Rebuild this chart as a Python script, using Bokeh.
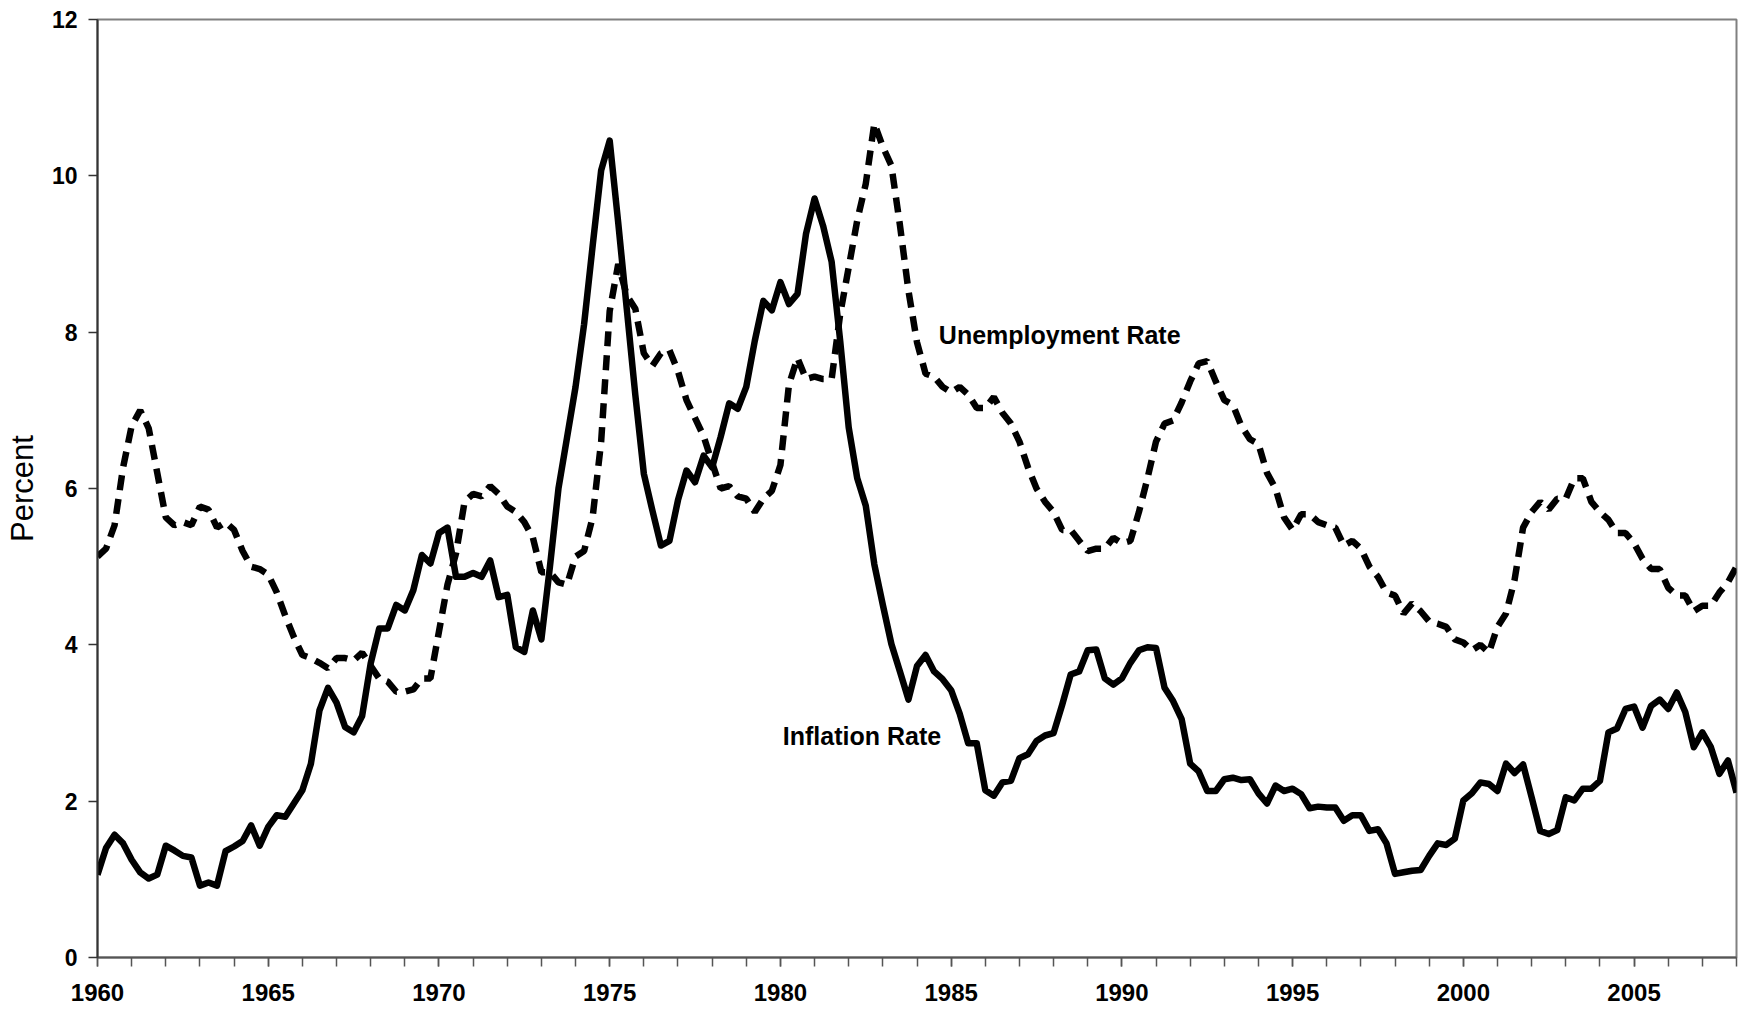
from bokeh.plotting import figure
from bokeh.models import SingleIntervalTicker, FixedTicker, Range1d, Label
from bokeh.embed import file_html
from bokeh.resources import INLINE

# Quarterly observations, 1960Q1 .. 2008Q1
start_year = 1960
unemployment = [
    5.13, 5.23, 5.53, 6.27,  6.80, 7.00, 6.77, 6.20,  5.63, 5.53, 5.57, 5.53,
    5.77, 5.73, 5.50, 5.57,  5.47, 5.20, 5.00, 4.97,  4.90, 4.67, 4.37, 4.10,
    3.87, 3.83, 3.77, 3.70,  3.83, 3.83, 3.80, 3.90,  3.73, 3.57, 3.53, 3.40,
    3.40, 3.43, 3.57, 3.57,  4.17, 4.77, 5.17, 5.83,  5.93, 5.90, 6.03, 5.93,
    5.77, 5.70, 5.57, 5.37,  4.93, 4.93, 4.80, 4.77,  5.13, 5.20, 5.63, 6.60,
    8.27, 8.87, 8.47, 8.30,  7.73, 7.57, 7.73, 7.77,  7.50, 7.13, 6.90, 6.67,
    6.33, 6.00, 6.03, 5.90,  5.87, 5.70, 5.87, 5.97,  6.30, 7.33, 7.67, 7.40,
    7.43, 7.40, 7.40, 8.23,  8.83, 9.43, 9.90, 10.67, 10.37, 10.13, 9.37, 8.53,
    7.87, 7.47, 7.43, 7.30,  7.23, 7.30, 7.20, 7.03,  7.03, 7.17, 6.97, 6.83,
    6.60, 6.27, 6.00, 5.83,  5.70, 5.47, 5.47, 5.33,  5.20, 5.23, 5.23, 5.37,
    5.30, 5.33, 5.70, 6.13,  6.60, 6.83, 6.87, 7.10,  7.37, 7.60, 7.63, 7.37,
    7.13, 7.07, 6.80, 6.63,  6.57, 6.20, 6.00, 5.63,  5.47, 5.67, 5.67, 5.57,
    5.53, 5.50, 5.27, 5.33,  5.23, 5.00, 4.87, 4.67,  4.63, 4.40, 4.53, 4.43,
    4.30, 4.27, 4.23, 4.07,  4.03, 3.93, 4.00, 3.90,  4.23, 4.40, 4.83, 5.50,
    5.70, 5.83, 5.73, 5.87,  5.87, 6.13, 6.13, 5.83,  5.70, 5.60, 5.43, 5.43,
    5.30, 5.10, 4.97, 4.97,  4.73, 4.63, 4.63, 4.43,  4.50, 4.50, 4.67, 4.80,
    5.00,
]
inflation = [
    1.06, 1.40, 1.57, 1.46,  1.25, 1.09, 1.01, 1.06,  1.43, 1.37, 1.30, 1.28,
    0.92, 0.96, 0.92, 1.36,  1.42, 1.49, 1.69, 1.43,  1.67, 1.82, 1.80, 1.97,
    2.14, 2.48, 3.16, 3.45,  3.26, 2.95, 2.88, 3.09,  3.76, 4.21, 4.21, 4.51,
    4.44, 4.70, 5.15, 5.04,  5.43, 5.50, 4.87, 4.87,  4.92, 4.87, 5.08, 4.61,
    4.64, 3.97, 3.91, 4.44,  4.07, 5.00, 6.00, 6.65,  7.30, 8.10, 9.10, 10.07,
    10.45, 9.40, 8.30, 7.20, 6.19, 5.72, 5.27, 5.33,  5.85, 6.23, 6.08, 6.42,
    6.27, 6.66, 7.09, 7.02,  7.30, 7.89, 8.40, 8.28,  8.64, 8.36, 8.49, 9.26,
    9.71, 9.36, 8.90, 7.89,  6.78, 6.13, 5.78, 5.03,  4.51, 4.01, 3.66, 3.30,
    3.73, 3.87, 3.66, 3.56,  3.42, 3.12, 2.74, 2.74,  2.14, 2.07, 2.24, 2.26,
    2.55, 2.60, 2.77, 2.84,  2.87, 3.23, 3.62, 3.66,  3.93, 3.94, 3.57, 3.49,
    3.57, 3.77, 3.93, 3.97,  3.96, 3.45, 3.28, 3.05,  2.48, 2.38, 2.13, 2.13,
    2.28, 2.30, 2.27, 2.28,  2.10, 1.97, 2.20, 2.13,  2.16, 2.09, 1.91, 1.93,
    1.92, 1.92, 1.75, 1.82,  1.82, 1.62, 1.64, 1.46,  1.07, 1.09, 1.11, 1.12,
    1.30, 1.46, 1.44, 1.52,  2.01, 2.10, 2.24, 2.22,  2.13, 2.48, 2.36, 2.47,
    2.05, 1.62, 1.58, 1.63,  2.05, 2.01, 2.16, 2.16,  2.26, 2.88, 2.93, 3.18,
    3.21, 2.94, 3.22, 3.30,  3.18, 3.39, 3.14, 2.69,  2.88, 2.69, 2.35, 2.52,
    2.11,
]
dates = [start_year + i / 4 for i in range(len(inflation))]
y_ticks = [0, 2, 4, 6, 8, 10, 12]
series_labels = ["Unemployment Rate", "Inflation Rate"]
y_label = "Percent"

FONT = "Liberation Sans"

p = figure(width=1738, height=1011, output_backend="svg", toolbar_location=None,
           x_range=Range1d(1960, 2008), y_range=Range1d(0, 12),
           min_border_left=97, min_border_right=2, min_border_top=19, min_border_bottom=54)
p.background_fill_color = "white"
p.border_fill_color = "white"
p.outline_line_color = "#808080"
p.outline_line_width = 2
p.xgrid.visible = False
p.ygrid.visible = False

p.line(dates, unemployment, line_color="black", line_width=6.5, line_dash="15 9")
p.line(dates, inflation, line_color="black", line_width=6.5, line_join="round")

# axes
p.xaxis.ticker = SingleIntervalTicker(interval=5, num_minor_ticks=5)
p.xaxis.axis_line_color = "#555555"
p.xaxis.axis_line_width = 2
p.xaxis.major_tick_line_color = "#555555"
p.xaxis.minor_tick_line_color = "#555555"
p.xaxis.major_tick_line_width = 1.5
p.xaxis.minor_tick_line_width = 1.5
p.xaxis.major_tick_in = 0
p.xaxis.major_tick_out = 9
p.xaxis.minor_tick_in = 0
p.xaxis.minor_tick_out = 9
p.xaxis.major_label_text_font = FONT
p.xaxis.major_label_text_font_style = "bold"
p.xaxis.major_label_text_font_size = "24px"
p.xaxis.major_label_text_color = "black"
p.xaxis.major_label_standoff = 17

p.yaxis.ticker = FixedTicker(ticks=y_ticks)
p.yaxis.axis_line_color = "#333333"
p.yaxis.axis_line_width = 2
p.yaxis.major_tick_line_color = "#333333"
p.yaxis.major_tick_line_width = 1.5
p.yaxis.major_tick_in = 0
p.yaxis.major_tick_out = 9
p.yaxis.minor_tick_line_color = None
p.yaxis.major_label_text_font = FONT
p.yaxis.major_label_text_font_style = "bold"
p.yaxis.major_label_text_font_size = "23px"
p.yaxis.major_label_text_color = "black"
p.yaxis.major_label_standoff = 11
p.yaxis.axis_label = y_label
p.yaxis.axis_label_text_font = FONT
p.yaxis.axis_label_text_font_style = "normal"
p.yaxis.axis_label_text_font_size = "31px"
p.yaxis.axis_label_text_color = "black"
p.yaxis.axis_label_standoff = 9

p.add_layout(Label(x=1984.64, y=7.97, text=series_labels[0], text_font=FONT,
                   text_font_style="bold", text_font_size="25px",
                   text_baseline="middle", text_align="left", text_color="black"))
p.add_layout(Label(x=1980.07, y=2.84, text=series_labels[1], text_font=FONT,
                   text_font_style="bold", text_font_size="25px",
                   text_baseline="middle", text_align="left", text_color="black"))

open("out.html", "w").write(file_html(p, INLINE))
